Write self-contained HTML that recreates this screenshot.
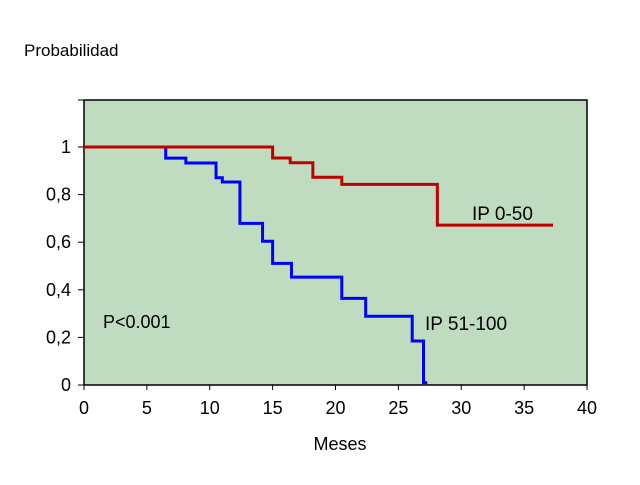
<!DOCTYPE html>
<html><head><meta charset="utf-8"><style>
body{margin:0;background:#fff;}
svg text{font-family:"Liberation Sans",Arial,sans-serif;fill:#000;}
</style></head><body>
<svg width="640" height="480" viewBox="0 0 640 480">
<text x="24" y="56" font-size="17">Probabilidad</text>
<rect x="84" y="100" width="503" height="285" fill="#c0dcc0" stroke="#000" stroke-width="1.5"/>
<g id="axes"></g>
<g id="series"></g>
<text x="103" y="328" font-size="18">P&lt;0.001</text>
<text x="472" y="220" font-size="19">IP 0-50</text>
<text x="425" y="330" font-size="19">IP 51-100</text>
<text x="340" y="450" font-size="18" text-anchor="middle">Meses</text>
</svg>
<script>
const xTicks=[0,5,10,15,20,25,30,35,40];
const yTicks=[0,0.2,0.4,0.6,0.8,1];
const yTickLabels=["0","0,2","0,4","0,6","0,8","1"];
const redTimes=[0,15,16.4,18.2,20.5,28.1,37.3];
const redValues=[1,0.954,0.934,0.873,0.843,0.672,0.672];
const blueTimes=[0,6.5,8.1,10.5,11.0,12.4,14.2,15.0,16.5,20.5,22.4,26.1,27.0,27.3];
const blueValues=[1,0.953,0.933,0.871,0.853,0.679,0.604,0.511,0.453,0.364,0.289,0.185,0.01,0.01];
const NS="http://www.w3.org/2000/svg";
const X=v=>84+v*(503/40);
const Y=v=>385-v*238;
const axes=document.getElementById('axes');
xTicks.forEach(t=>{
  const l=document.createElementNS(NS,'line');
  l.setAttribute('x1',X(t));l.setAttribute('x2',X(t));l.setAttribute('y1',385);l.setAttribute('y2',390);l.setAttribute('stroke','#000');
  
  
  axes.appendChild(l);
  const tx=document.createElementNS(NS,'text');
  tx.setAttribute('x',X(t));tx.setAttribute('y',414);tx.setAttribute('font-size','18');tx.setAttribute('text-anchor','middle');
  tx.textContent=t;
  
  
  axes.appendChild(tx);
});
yTicks.forEach((t,i)=>{
  const l=document.createElementNS(NS,'line');
  l.setAttribute('x1',78);l.setAttribute('x2',84);l.setAttribute('y1',Y(t));l.setAttribute('y2',Y(t));l.setAttribute('stroke','#000');
  
  
  axes.appendChild(l);
  const tx=document.createElementNS(NS,'text');
  tx.setAttribute('x',71);tx.setAttribute('y',Y(t)+6);tx.setAttribute('font-size','18');tx.setAttribute('text-anchor','end');
  tx.textContent=yTickLabels[i];
  
  
  axes.appendChild(tx);
});
const tl=document.createElementNS(NS,'line');
tl.setAttribute('x1',78);tl.setAttribute('x2',84);tl.setAttribute('y1',100);tl.setAttribute('y2',100);tl.setAttribute('stroke','#000');


axes.appendChild(tl);
function step(times,vals){
  let d='M'+X(times[0])+','+Y(vals[0]);
  for(let i=1;i<times.length;i++){d+=' H'+X(times[i])+' V'+Y(vals[i]);}
  return d;
}
const s=document.getElementById('series');
const pb=document.createElementNS(NS,'path');
pb.setAttribute('d',step(blueTimes,blueValues));pb.setAttribute('fill','none');pb.setAttribute('stroke','#0000ff');pb.setAttribute('stroke-width','3');


s.appendChild(pb);
const pr=document.createElementNS(NS,'path');
pr.setAttribute('d',step(redTimes,redValues));pr.setAttribute('fill','none');pr.setAttribute('stroke','#c00000');pr.setAttribute('stroke-width','3');


s.appendChild(pr);
</script>
</body></html>
